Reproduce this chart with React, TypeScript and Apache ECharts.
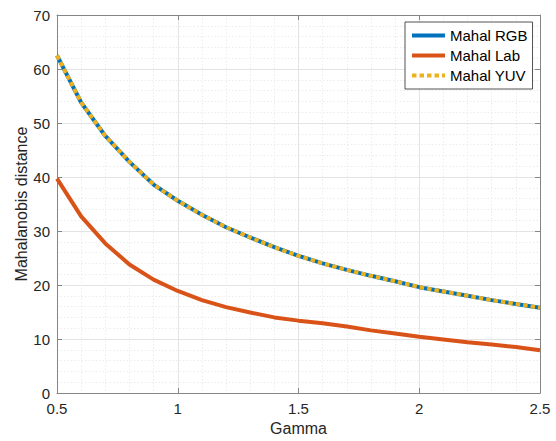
import React, { useEffect, useRef } from "react";
import * as echarts from "echarts";

const gammaValues = [0.5, 0.6, 0.7, 0.8, 0.9, 1.0, 1.1, 1.2, 1.3, 1.4, 1.5, 1.6, 1.7, 1.8, 1.9, 2.0, 2.1, 2.2, 2.3, 2.4, 2.5];
const mahalRGB = [62.5, 53.8, 47.6, 42.8, 38.6, 35.6, 33.0, 30.7, 28.8, 27.0, 25.4, 24.0, 22.8, 21.7, 20.7, 19.6, 18.8, 18.0, 17.2, 16.5, 15.8];
const mahalLab = [39.7, 32.7, 27.7, 23.8, 21.0, 18.9, 17.2, 15.9, 14.9, 14.0, 13.4, 12.9, 12.3, 11.6, 11.0, 10.4, 9.9, 9.4, 9.0, 8.5, 7.9];
const mahalYUV = [62.5, 53.8, 47.6, 42.8, 38.6, 35.6, 33.0, 30.7, 28.8, 27.0, 25.4, 24.0, 22.8, 21.7, 20.7, 19.6, 18.8, 18.0, 17.2, 16.5, 15.8];
const seriesNames = ["Mahal RGB", "Mahal Lab", "Mahal YUV"];

const FONT = "'Liberation Sans', Arial, Helvetica, sans-serif";
const AXIS_GRAY = "#858585";
const TEXT = "#262626";

function pairs(ys: number[]) {
  return gammaValues.map((x, i) => [x, ys[i]]);
}

export default function App() {
  const ref = useRef<HTMLDivElement>(null);
  useEffect(() => {
    if (!ref.current) return;
    const chart = echarts.init(ref.current, undefined, { renderer: "svg" });
    const tickStyle = { show: true, inside: true, length: 5, lineStyle: { color: AXIS_GRAY, width: 1 } };
    chart.setOption({
      animation: false,
      backgroundColor: "#ffffff",
      textStyle: { fontFamily: FONT },
      grid: { left: 57, right: 16, top: 15, bottom: 44, containLabel: false },
      legend: {
        data: seriesNames,
        orient: "vertical",
        left: 405,
        top: 22,
        itemWidth: 33,
        itemHeight: 14,
        itemGap: 5,
        itemTextGap: 4,
        padding: [6, 5, 6, 5],
        borderColor: TEXT,
        borderWidth: 0.8,
        backgroundColor: "#ffffff",
        itemStyle: { opacity: 0 },
        lineStyle: { width: 4 },
        textStyle: { fontSize: 15, color: "#000000", fontFamily: FONT },
      },
      xAxis: [
        {
          type: "value",
          min: 0.5,
          max: 2.5,
          interval: 0.5,
          name: "Gamma",
          nameLocation: "middle",
          nameGap: 27,
          nameMoveOverlap: false,
          nameTextStyle: { fontSize: 16, color: TEXT, fontFamily: FONT },
          axisLine: { show: true, onZero: false, lineStyle: { color: AXIS_GRAY, width: 1 } },
          axisTick: tickStyle,
          axisLabel: { fontSize: 15, color: TEXT, margin: 8, fontFamily: FONT },
          splitLine: { show: true, lineStyle: { color: "#e3e3e3", width: 1 } },
          minorTick: { show: false, splitNumber: 5 },
          minorSplitLine: { show: true, lineStyle: { color: "#ececec", width: 1, type: [1.5, 2] } },
        },
        {
          type: "value",
          position: "top",
          min: 0.5,
          max: 2.5,
          interval: 0.5,
          axisLine: { show: true, onZero: false, lineStyle: { color: AXIS_GRAY, width: 1 } },
          axisTick: tickStyle,
          axisLabel: { show: false },
          splitLine: { show: false },
        },
      ],
      yAxis: [
        {
          type: "value",
          min: 0,
          max: 70,
          interval: 10,
          name: "Mahalanobis distance",
          nameLocation: "middle",
          nameGap: 28,
          nameMoveOverlap: false,
          nameTextStyle: { fontSize: 16, color: TEXT, fontFamily: FONT },
          axisLine: { show: true, onZero: false, lineStyle: { color: AXIS_GRAY, width: 1 } },
          axisTick: tickStyle,
          axisLabel: { fontSize: 15, color: TEXT, margin: 7, fontFamily: FONT },
          splitLine: { show: true, lineStyle: { color: "#e3e3e3", width: 1 } },
          minorTick: { show: false, splitNumber: 5 },
          minorSplitLine: { show: true, lineStyle: { color: "#ececec", width: 1, type: [1.5, 2] } },
        },
        {
          type: "value",
          position: "right",
          min: 0,
          max: 70,
          interval: 10,
          axisLine: { show: true, onZero: false, lineStyle: { color: AXIS_GRAY, width: 1 } },
          axisTick: tickStyle,
          axisLabel: { show: false },
          splitLine: { show: false },
        },
      ],
      series: [
        {
          name: seriesNames[0],
          type: "line",
          data: pairs(mahalRGB),
          symbol: "none",
          color: "#0072BD",
          lineStyle: { color: "#0072BD", width: 4 },
          z: 2,
        },
        {
          name: seriesNames[1],
          type: "line",
          data: pairs(mahalLab),
          symbol: "none",
          color: "#D95319",
          lineStyle: { color: "#D95319", width: 4 },
          z: 3,
        },
        {
          name: seriesNames[2],
          type: "line",
          data: pairs(mahalYUV),
          symbol: "none",
          color: "#EDB120",
          lineStyle: { color: "#EDB120", width: 4, type: [4.5, 3] },
          z: 4,
        },
      ],
    });
    return () => chart.dispose();
  }, []);
  return (
    <div
      ref={ref}
      style={{ position: "absolute", left: 0, top: 0, width: 556, height: 441 }}
    />
  );
}
